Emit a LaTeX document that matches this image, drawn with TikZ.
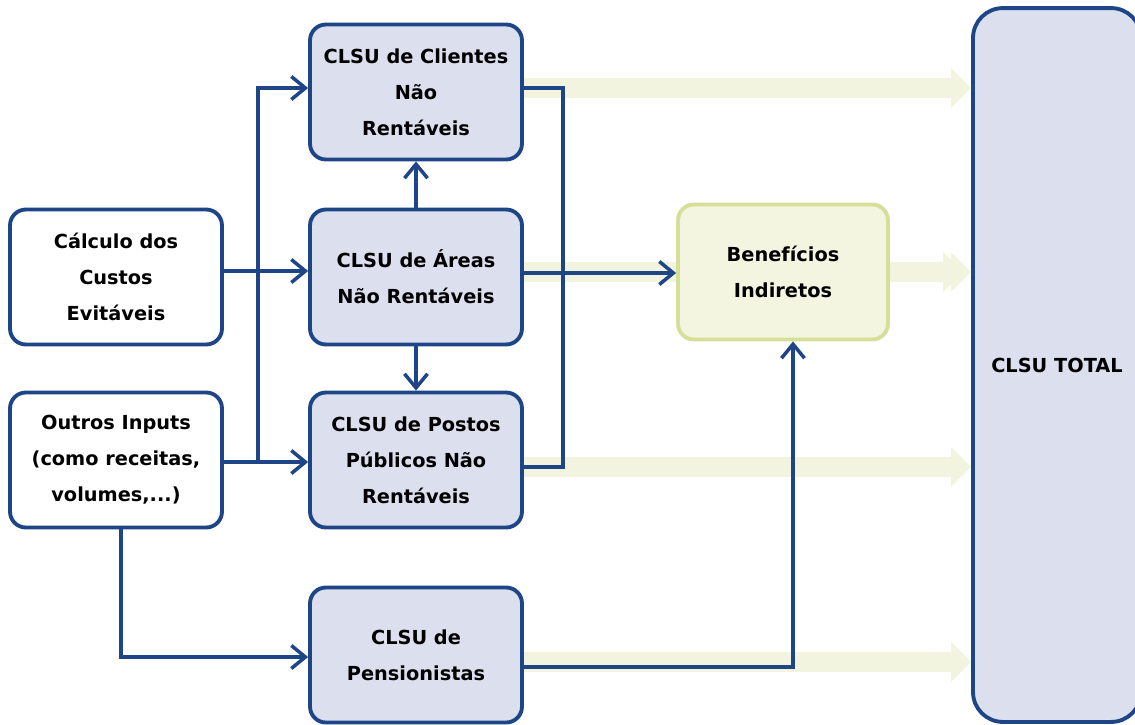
\documentclass[tikz,border=0pt]{standalone}
\usepackage{fontspec}
\setmainfont{DejaVu Sans}
\usetikzlibrary{positioning, arrows.meta, calc, backgrounds}
\definecolor{LineBlue}{RGB}{30,70,135}
\definecolor{BoxFill}{RGB}{219,223,238}
\definecolor{FlowColor}{RGB}{242,244,223}
\definecolor{BenFill}{RGB}{243,245,225}
\definecolor{BenLine}{RGB}{214,223,150}
\tikzstyle{box} = [draw=LineBlue, line width=2.2pt, rounded corners=9pt, fill=BoxFill, minimum width=4.24cm, minimum height=2.7cm, align=center, inner sep=0pt, font=\bfseries\fontsize{11}{20.5}\selectfont]
\tikzstyle{inbox} = [box, fill=white]
\tikzstyle{benbox} = [box, draw=BenLine, fill=BenFill, minimum width=4.2cm]
\tikzstyle{totalbox} = [box, rounded corners=17pt, minimum width=3.36cm, minimum height=14.28cm]
\tikzstyle{link} = [line width=2pt, LineBlue, -{Straight Barb[length=2.8mm,width=4.6mm]}]
\tikzstyle{bus} = [line width=2pt, LineBlue]
\tikzstyle{flow} = [line width=0.4cm, FlowColor, -{Triangle[length=0.4cm,width=0.8cm,line width=0pt]}]
\tikzstyle{band} = [line width=0.4cm, FlowColor]

\begin{document}
\begin{tikzpicture}[x=0.02cm, y=-0.02cm]
  \useasboundingbox (0,0) rectangle (1135,724);

  % Boxes
  \node[box] (clientes) at (416,92) {CLSU de Clientes\\Não\\Rentáveis};
  \node[inbox] (calculo) at (116,277) {Cálculo dos\\Custos\\Evitáveis};
  \node[box] (areas) at (416,277) {CLSU de Áreas\\Não Rentáveis};
  \node[inbox] (outros) at (116,460) {Outros Inputs\\(como receitas,\\volumes,...)};
  \node[box] (postos) at (416,460) {CLSU de Postos\\Públicos Não\\Rentáveis};
  \node[box] (pens) at (416,655) {CLSU de\\Pensionistas};
  \node[benbox] (benef) at (783,272) {Benefícios\\Indiretos};
  \node[totalbox] (total) at (1057,365) {CLSU TOTAL};

  % Rows
  \coordinate (r1) at (0,88);
  \coordinate (r2) at (0,272);
  \coordinate (r3) at (0,467);
  \coordinate (r4) at (0,662);
  \coordinate (split) at (258,462);
  \coordinate (busx) at (563,0);

  % Wide arrows to the total
  \begin{scope}[on background layer]
    \draw[flow] (clientes.east |- r1) -- (total.west |- r1);
    \draw[band] (areas.east |- r2) -- (benef.west |- r2);
    \draw[flow] (benef.east |- r2) -- ([xshift=-1.6mm]total.west |- r2);
    \draw[flow] (benef.east |- r2) -- (total.west |- r2);
    \draw[flow] (postos.east |- r3) -- (total.west |- r3);
    \draw[flow] (pens.east |- r4) -- (total.west |- r4);
  \end{scope}

  % Inputs
  \draw[link] (calculo.east |- 0,271) -- (areas.west |- 0,271);
  \draw[link] (outros.east |- split) -- (postos.west |- split);
  \draw[link] (split) |- (clientes.west |- r1);
  \draw[link] ([xshift=1mm]outros.south) |- (pens.west |- 0,657);
  \draw[link] (areas.north) -- (clientes.south);
  \draw[link] (areas.south) -- (postos.north);

  % Outputs
  \draw[bus] (clientes.east |- r1) -| (busx |- r3) -- (postos.east |- r3);
  \draw[link] (areas.east |- 0,273) -- (benef.west |- 0,273);
  \draw[link] (pens.east |- 0,667) -| ([xshift=2mm]benef.south);
\end{tikzpicture}
\end{document}
